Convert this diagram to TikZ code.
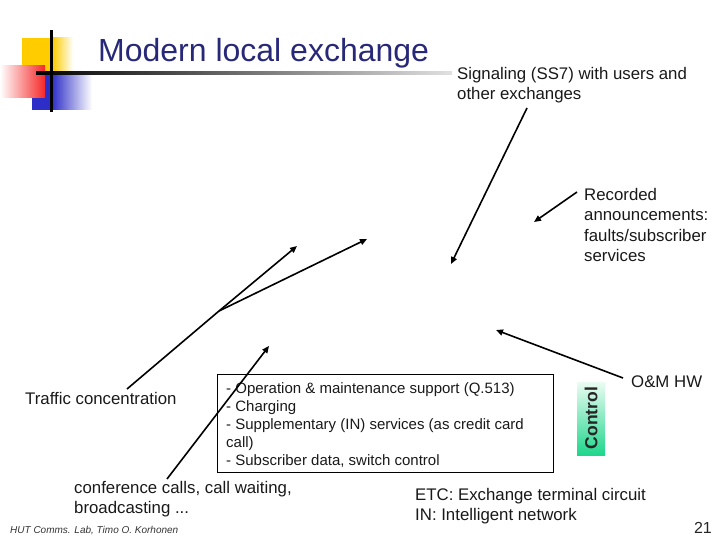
\documentclass[tikz,border=0pt]{standalone}
\usepackage{fontspec}
\setmainfont{Liberation Sans}
\usetikzlibrary{arrows.meta}
\definecolor{titleblue}{RGB}{40,40,120}
\definecolor{logoyellow}{RGB}{255,204,0}
\definecolor{logored}{RGB}{245,40,40}
\definecolor{logoblue}{RGB}{45,45,200}
\definecolor{ctrlgreen}{RGB}{30,214,140}
\definecolor{ctrltop}{RGB}{235,252,242}
\tikzset{
  lbl/.style={inner sep=0pt, anchor=base west, font=\fontsize{16.8}{20.5}\selectfont, text=black!90},
  lblml/.style={inner sep=0pt, anchor=north west, align=left, font=\fontsize{16.8}{20.5}\selectfont, text=black!90},
  boxtxt/.style={inner sep=0pt, anchor=north west, align=left, font=\fontsize{15}{18}\selectfont, text=black!90},
  arr/.style={line width=1.6pt, -{Triangle[length=7pt,width=6pt]}},
  plain/.style={line width=1.6pt}
}
\begin{document}
\begin{tikzpicture}[x=1pt,y=-1pt]
\useasboundingbox (0,0) rectangle (720,540);
% logo
\fill[logoyellow] (22,38) rectangle (53,75);
\shade[left color=logoyellow, right color=white] (52.5,38) rectangle (73,75);
\fill[logoblue] (32,73) rectangle (52,110);
\shade[left color=logoblue, right color=white] (51.5,73) rectangle (92,110);
\shade[left color=white, right color=logored] (0,66) rectangle (45,98);
\shade[left color=black, right color=black!12] (36,71.5) rectangle (452,74.5);
\fill[black] (49.5,30) rectangle (52.5,112);
% title
\node[inner sep=0pt, anchor=base west, text=titleblue, font=\fontsize{32}{38}\selectfont] (title) at (98,62) {Modern local exchange};
% labels
\node[lbl] (traffic) at (25,404) {Traffic concentration};
\node[lblml] (sig) at (457,67) {Signaling (SS7) with users and\\other exchanges};
\node[lblml] (rec) at (584,188) {Recorded\\announcements:\\faults/subscriber\\services};
\node[lbl] (om) at (631,387) {O\&M HW};
\node[lblml] (conf) at (74,481) {conference calls, call waiting,\\broadcasting ...};
\node[lblml] (etc) at (415,488) {ETC: Exchange terminal circuit\\IN: Intelligent network};
% box
\node[draw=black, line width=0.8pt, minimum width=336pt, minimum height=98pt, inner sep=0pt, anchor=north west] (box) at (217,374) {};
\node[boxtxt] (boxtext) at (226,382) {- Operation \& maintenance support (Q.513)\\- Charging\\- Supplementary (IN) services (as credit card\\call)\\- Subscriber data, switch control};
% control
\shade[top color=ctrltop, bottom color=ctrlgreen] (577,382) rectangle (605,455);
\node[inner sep=0pt, rotate=90, font=\fontsize{17.5}{20}\selectfont\bfseries, text=black!85] (ctrl) at (591,418) {Control};
% footer
\node[inner sep=0pt, anchor=base west, font=\fontsize{10}{12}\selectfont\itshape, text=black!80] (foot) at (10,533) {HUT Comms. Lab, Timo O. Korhonen};
\node[inner sep=0pt, anchor=base east, font=\fontsize{16}{19}\selectfont, text=black!85] (page) at (712,533) {21};
% connector coordinates
\coordinate (tstart) at (127,389);
\coordinate (tj) at (219,311);
\coordinate (t1) at (297,246);
\coordinate (t2) at (367,239);
\coordinate (cstart) at (167,479);
\coordinate (cend) at (269,346);
\coordinate (sstart) at (527,108);
\coordinate (send) at (451,264);
\coordinate (rstart) at (577,192);
\coordinate (rend) at (534,222);
\coordinate (ostart) at (623,378);
\coordinate (oend) at (496,330);
\draw[plain] (tstart) -- (tj);
\draw[arr] (tj) -- (t1);
\draw[arr] (tj) -- (t2);
\draw[arr] (cstart) -- (cend);
\draw[arr] (sstart) -- (send);
\draw[arr] (rstart) -- (rend);
\draw[arr] (ostart) -- (oend);
\end{tikzpicture}
\end{document}
